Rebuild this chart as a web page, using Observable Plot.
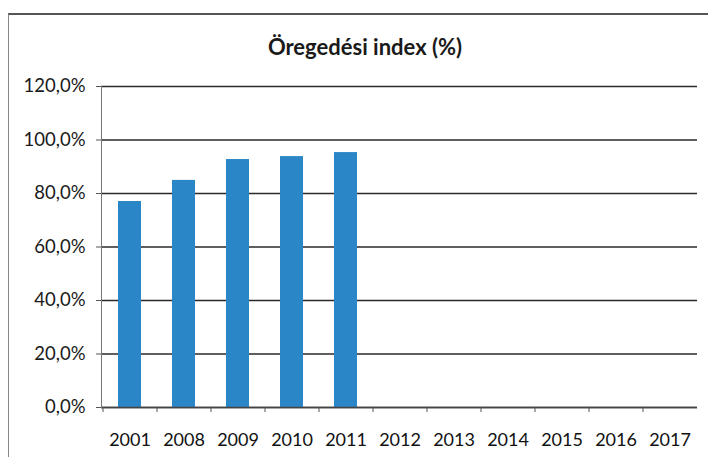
<!DOCTYPE html>
<html>
<head>
<meta charset="utf-8">
<script src="https://cdn.jsdelivr.net/npm/d3@7"></script>
<script src="https://cdn.jsdelivr.net/npm/@observablehq/plot@0.6"></script>
<style>
  html, body { margin: 0; padding: 0; background: #fff; }
  #wrap { position: relative; width: 708px; height: 457px; overflow: hidden; font-family: Lato, "Open Sans", sans-serif; }
  #frame { position: absolute; left: 8px; top: 13px; width: 720px; height: 460px; border-top: 2px solid #555; border-left: 1.5px solid #888; }
  #title { position: absolute; left: 0; width: 730px; top: 33px; text-align: center; font-size: 22px; font-weight: 700; color: #1a1a1a; line-height: 28px; }
  #chart { position: absolute; left: 0; top: 0; }
</style>
</head>
<body>
<div id="wrap">
  <div id="frame"></div>
  <div id="title">Öregedési index (%)</div>
  <div id="chart"></div>
</div>
<script>
const years = ["2001", "2008", "2009", "2010", "2011", "2012", "2013", "2014", "2015", "2016", "2017"];
const values = [77.0, 84.9, 92.7, 93.8, 95.3, null, null, null, null, null, null];
const yTicks = [0, 20, 40, 60, 80, 100, 120];

const data = years.map((year, i) => ({year, value: values[i]})).filter(d => d.value != null);
const fmt = d => d.toFixed(1).replace(".", ",") + "%";

const chart = Plot.plot({
  width: 708,
  height: 457,
  marginTop: 86,
  marginLeft: 101,
  marginRight: 11,
  marginBottom: 50,
  style: {fontFamily: "Lato, 'Open Sans', sans-serif", fontSize: "18px", color: "#222", background: "transparent"},
  x: {domain: years, paddingInner: 0.575, paddingOuter: 0.2875, label: null},
  y: {domain: [0, 120], label: null},
  marks: [
    Plot.gridY(yTicks, {stroke: "#2a2a2a", strokeOpacity: 1, strokeWidth: 1.3}),
    Plot.barY(data, {x: "year", y: "value", fill: "#2a86c6"}),
    Plot.ruleY([0], {stroke: "#444", strokeWidth: 1.3}),
    Plot.frame({anchor: "left", stroke: "#777"}),
    Plot.axisY(yTicks, {tickSize: 5, tickPadding: 11, tickFormat: fmt, stroke: "#555", fill: "#1a1a1a", fontSize: 18.5}),
    Plot.axisX(years, {tickSize: 0, tickPadding: 26, fill: "#111", fontSize: 18}),
    Plot.axisX(years, {tickSize: 5, text: null, dx: -27, stroke: "#555"})
  ]
});
document.getElementById("chart").appendChild(chart);
</script>
</body>
</html>
